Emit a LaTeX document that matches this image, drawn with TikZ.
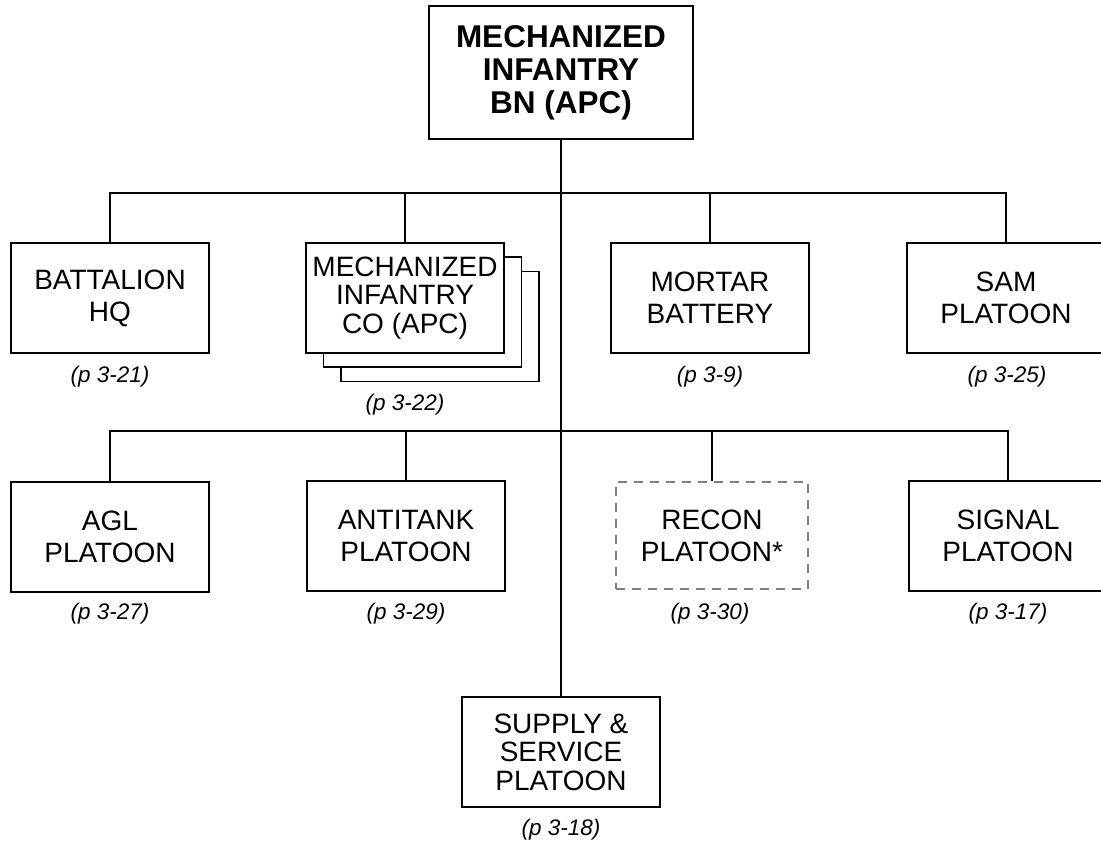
\documentclass[tikz,border=0pt]{standalone}
\usepackage{fontspec}
\setmainfont{Liberation Sans}
\begin{document}
\begin{tikzpicture}[x=1pt, y=-1pt,
    unit/.style={draw, line width=1.8pt, fill=white, minimum width=198pt, minimum height=110pt,
      inner sep=0pt, align=center, font=\fontsize{28}{32}\selectfont},
    tight/.style={font=\fontsize{28}{28.5}\selectfont},
    pageref/.style={inner sep=0pt, font=\fontsize{22.5}{24}\selectfont\itshape},
    link/.style={line width=1.8pt}]
  \useasboundingbox (0,0) rectangle (1101,842);
  % Battalion
  \node[unit, minimum width=264pt, minimum height=133pt, font=\fontsize{31.5}{33}\selectfont\bfseries]
    (bn) at (561,72.5) {MECHANIZED\\INFANTRY\\BN (APC)};
  % First row
  \node[unit] (hq) at (110,298) {BATTALION\\HQ};
  \node[unit] (co3) at (440,326.5) {};
  \node[unit] (co2) at (422.5,312) {};
  \node[unit, tight] (co) at (405,298) {MECHANIZED\\INFANTRY\\CO (APC)};
  \node[unit] (mortar) at (710,298) {MORTAR\\BATTERY};
  \node[unit] (sam) at (1006,298) {SAM\\PLATOON};
  % Second row
  \node[unit] (agl) at (110,537) {AGL\\PLATOON};
  \node[unit] (antitank) at (406,536) {ANTITANK\\PLATOON};
  \node[unit, draw=gray, line width=1.2pt, dash pattern=on 9pt off 7pt, minimum width=192pt, minimum height=107pt]
    (recon) at (712,535.5) {RECON\\PLATOON*};
  \node[unit] (signal) at (1008,536) {SIGNAL\\PLATOON};
  % Bottom
  \node[unit, tight] (supply) at (561,752) {SUPPLY \&\\SERVICE\\PLATOON};
  % Page references
  \node[pageref] (hqp) at (110,377) {(p 3-21)};
  \node[pageref] (cop) at (405,405) {(p 3-22)};
  \node[pageref] (mortarp) at (710,377) {(p 3-9)};
  \node[pageref] (samp) at (1007,377) {(p 3-25)};
  \node[pageref] (aglp) at (110,614) {(p 3-27)};
  \node[pageref] (antitankp) at (406,614) {(p 3-29)};
  \node[pageref] (reconp) at (710,614) {(p 3-30)};
  \node[pageref] (signalp) at (1008,614) {(p 3-17)};
  \node[pageref] (supplyp) at (561,830) {(p 3-18)};
  % Lines
  \coordinate (bus1) at (561,193);
  \coordinate (bus2) at (561,431);
  \draw[link] (bn.south) -- (supply.north);
  \draw[link] (hq.north) |- (bus1) -| (sam.north);
  \draw[link] (co.north) |- (bus1);
  \draw[link] (mortar.north) |- (bus1);
  \draw[link] (agl.north) |- (bus2) -| (signal.north);
  \draw[link] (antitank.north) |- (bus2);
  \draw[link] (recon.north) |- (bus2);
\end{tikzpicture}
\end{document}
